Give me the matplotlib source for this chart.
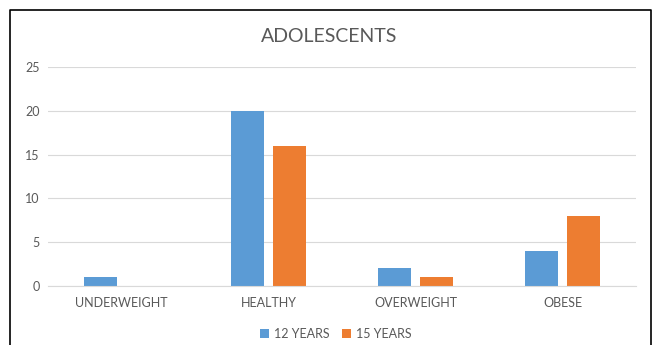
import numpy as np
import matplotlib
matplotlib.use('Agg')
import matplotlib.pyplot as plt
from matplotlib.lines import Line2D

categories = ['UNDERWEIGHT', 'HEALTHY', 'OVERWEIGHT', 'OBESE']
years_12 = [1, 20, 2, 4]
years_15 = [0, 16, 1, 8]
series_names = ['12 YEARS', '15 YEARS']
y_ticks = [0, 5, 10, 15, 20, 25]

plt.rcParams['font.family'] = ['Lato', 'DejaVu Sans']
text_color = '#595959'

fig = plt.figure(figsize=(6.58, 3.45), dpi=100)
ax = fig.add_axes([48 / 658, 1 - 286 / 345, 588 / 658, 219 / 345])

x = np.arange(len(categories))
w = 0.225
off = 0.145
ax.bar(x - off, years_12, w, color='#5B9BD5', label=series_names[0])
ax.bar(x + off, years_15, w, color='#ED7D31', label=series_names[1])

ax.set_xlim(-0.5, 3.5)
ax.set_ylim(0, 25)
ax.set_yticks(y_ticks)
ax.set_xticks(x)
ax.set_xticklabels(categories)
ax.yaxis.grid(True, color='#D9D9D9', linewidth=0.8)
ax.set_axisbelow(True)
for s in ['top', 'right', 'left']:
    ax.spines[s].set_visible(False)
ax.spines['bottom'].set_color('#D9D9D9')
ax.tick_params(axis='both', length=0, colors=text_color, labelsize=9)
ax.tick_params(axis='x', pad=8)
ax.tick_params(axis='y', pad=6)

fig.text(0.5, 1 - 36 / 345, 'ADOLESCENTS', ha='center', va='center',
         fontsize=14, color=text_color)

fig.legend(loc='center', bbox_to_anchor=(0.51, 1 - 334 / 345), ncol=2,
           frameon=False, fontsize=9, labelcolor=text_color,
           handlelength=0.7, handleheight=0.7, handletextpad=0.4,
           columnspacing=1.0)

# chart border (left, top, right)
bx0, bx1, by = 9.5 / 658, 650.5 / 658, 1 - 10 / 345
fig.add_artist(Line2D([bx0, bx0, bx1, bx1], [0, by, by, 0],
                      transform=fig.transFigure, color='black', linewidth=1.2))

fig.savefig('out.png', dpi=100)
